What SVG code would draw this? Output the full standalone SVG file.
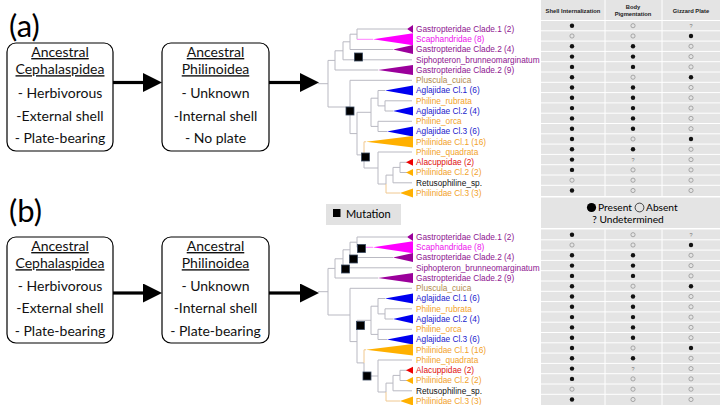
<svg xmlns="http://www.w3.org/2000/svg" width="720" height="405" viewBox="0 0 720 405">
<defs>
<style>
.lbl{font-family:Lato,"Liberation Sans",sans-serif;fill:#000}
.box{fill:#fff;stroke:#000;stroke-width:1.2}
.bt{font-family:Lato,"Liberation Sans",sans-serif;font-size:14px;text-anchor:middle;fill:#111}
.u{text-decoration:underline}
.br{fill:none;stroke:#b9b9c2;stroke-width:1}
.tx{font-family:"Liberation Sans",Arial,sans-serif;font-size:8.3px}
.pu{fill:#8e1490}.mg{fill:#ee10ee}.bl{fill:#2222cc}.or{fill:#f2a22a}.rd{fill:#e01010}.tn{fill:#b08a4e}.bk{fill:#111}
.tp{fill:#9b009b}.tm{fill:#ff00ff}.tb{fill:#0000f0}.to{fill:#ffb000}.tr{fill:#ee0000}
.mut{fill:#000;stroke:#3a4a60;stroke-width:0.8}
.tab{fill:#e4e4e4}
.sep{stroke:#fff;stroke-width:1}
.hd{font-family:"Liberation Sans",Arial,sans-serif;font-size:5.8px;font-weight:bold;text-anchor:middle;fill:#222}
.q{font-family:"Liberation Sans",Arial,sans-serif;font-size:5.5px;text-anchor:middle;fill:#777}
.conn{stroke:#000;stroke-width:3.2;fill:none}
</style>
<marker id="ah" markerUnits="userSpaceOnUse" markerWidth="20" markerHeight="20" refX="0" refY="9.5" orient="auto" viewBox="0 0 20 20">
<path d="M0,0 L19,9.5 L0,19 z" fill="#000"/>
</marker>
<circle id="f" r="2.2" fill="#111"/>
<circle id="o" r="2.1" fill="none" stroke="#8c8c8c" stroke-width="0.7"/>
</defs>
<rect width="720" height="405" fill="#fff"/>

<text class="lbl" x="9" y="37" font-size="31">(a)</text>
<text class="lbl" x="9" y="222" font-size="31">(b)</text>

<g id="a-cephalaspidea">
<rect class="box" x="7" y="43" width="106" height="108" rx="9"/>
<text class="bt u" x="60" y="57">Ancestral</text>
<text class="bt u" x="60" y="74.2">Cephalaspidea</text>
<text class="bt" x="60" y="98">- Herbivorous</text>
<text class="bt" x="60" y="120.5">-External shell</text>
<text class="bt" x="60" y="142.5">- Plate-bearing</text>
</g>
<g id="a-philinoidea">
<rect class="box" x="162" y="43" width="107" height="108" rx="9"/>
<text class="bt u" x="215.5" y="57">Ancestral</text>
<text class="bt u" x="215.5" y="74.2">Philinoidea</text>
<text class="bt" x="215.5" y="98">- Unknown</text>
<text class="bt" x="215.5" y="120.5">-Internal shell</text>
<text class="bt" x="215.5" y="142.5">- No plate</text>
</g>
<g id="b-cephalaspidea">
<rect class="box" x="7" y="237" width="106" height="106" rx="9"/>
<text class="bt u" x="60" y="251">Ancestral</text>
<text class="bt u" x="60" y="268.2">Cephalaspidea</text>
<text class="bt" x="60" y="291">- Herbivorous</text>
<text class="bt" x="60" y="313">-External shell</text>
<text class="bt" x="60" y="335.5">- Plate-bearing</text>
</g>
<g id="b-philinoidea">
<rect class="box" x="162" y="237" width="107" height="106" rx="9"/>
<text class="bt u" x="215.5" y="251">Ancestral</text>
<text class="bt u" x="215.5" y="268.2">Philinoidea</text>
<text class="bt" x="215.5" y="291">- Unknown</text>
<text class="bt" x="215.5" y="313">-Internal shell</text>
<text class="bt" x="215.5" y="335.5">- Plate-bearing</text>
</g>

<g id="connectors">
<line class="conn" x1="113" y1="82.5" x2="143" y2="82.5" marker-end="url(#ah)"/>
<line class="conn" x1="269" y1="82.5" x2="300" y2="82.5" marker-end="url(#ah)"/>
<line class="conn" x1="113" y1="293" x2="143" y2="293" marker-end="url(#ah)"/>
<line class="conn" x1="269" y1="293" x2="300" y2="293" marker-end="url(#ah)"/>
</g>

<g id="tree-a">
<path class="br" d="M318,83.7H328 M328,60.4V107 M328,60.4H335 M335,50.8V70 M335,50.8H343 M335,70H378 M343,41.8V59.8 M343,41.8H350 M343,59.8H412 M350,34.2V49.5 M350,34.2H357 M350,49.5H393 M357,29V39.3 M357,29H407 M328,107H350 M350,80.3V133.6 M350,80.3H412 M350,133.6H357 M357,112.3V154.9 M357,112.3H371 M371,98.2V126.4 M371,98.2H378 M378,90.5V105.9 M378,90.5H385 M378,105.9H385 M385,100.8V111 M385,100.8H412 M385,111H393 M371,126.4H378 M378,121.3V131.5 M378,121.3H412 M378,131.5H387 M357,154.9H364 M364,154.9V168 M364,168H378 M378,152V184 M378,152H412 M378,184H386 M386,175.1V184 M386,175.1H393 M393,167.4V182.8 M393,167.4H400 M393,182.8H412 M400,162.3V172.5 M400,162.3H407 M400,172.5H407"/>
<path d="M357,39.3H373" stroke="#ff80ff" stroke-width="1" fill="none"/>
<path d="M364,141.8V154.9 M364,141.8H366 M386,184V193H400" stroke="#f0c890" stroke-width="1" fill="none"/>
<polygon class="tp" points="407,29 413,25 413,33"/>
<polygon class="tm" points="373,39.3 413,33.3 413,45.3"/>
<polygon class="tp" points="393,49.5 413,45 413,54"/>
<polygon class="tp" points="378,70 413,65 413,75"/>
<polygon class="tb" points="385,90.5 413,85.5 413,95.5"/>
<polygon class="tb" points="393,111 413,106.5 413,115.5"/>
<polygon class="tb" points="387,131.5 413,126.5 413,136.5"/>
<polygon class="to" points="366,141.8 413,136 413,147.6"/>
<polygon class="tr" points="406,162.3 413,158.8 413,165.8"/>
<polygon class="to" points="406,172.5 413,169 413,176"/>
<polygon class="to" points="400,193 413,188.5 413,197.5"/>
<g class="tx">
<text class="pu" x="416" y="31.8">Gastropteridae Clade.1 (2)</text>
<text class="mg" x="416" y="42.1">Scaphandridae (8)</text>
<text class="pu" x="416" y="52.3">Gastropteridae Clade.2 (4)</text>
<text class="pu" x="416" y="62.6">Siphopteron_brunneomarginatum</text>
<text class="pu" x="416" y="72.8">Gastropteridae Clade.2 (9)</text>
<text class="tn" x="416" y="83.1">Pluscula_cuica</text>
<text class="bl" x="416" y="93.3">Aglajidae Cl.1 (6)</text>
<text class="or" x="416" y="103.6">Philine_rubrata</text>
<text class="bl" x="416" y="113.8">Aglajidae Cl.2 (4)</text>
<text class="or" x="416" y="124.1">Philine_orca</text>
<text class="bl" x="416" y="134.3">Aglajidae Cl.3 (6)</text>
<text class="or" x="416" y="144.6">Philinidae Cl.1 (16)</text>
<text class="or" x="416" y="154.8">Philine_quadrata</text>
<text class="rd" x="416" y="165.1">Alacuppidae (2)</text>
<text class="or" x="416" y="175.3">Philinidae Cl.2 (2)</text>
<text class="bk" x="416" y="185.6">Retusophiline_sp.</text>
<text class="or" x="416" y="195.8">Philinidae Cl.3 (3)</text>
</g>
<rect class="mut" x="354.5" y="53" width="8" height="8"/>
<rect class="mut" x="346" y="107" width="8" height="8"/>
<rect class="mut" x="361.5" y="153" width="8" height="8"/>
</g>

<g id="tree-b" transform="translate(0,208)">
<path class="br" d="M318,83.7H328 M328,60.4V107 M328,60.4H335 M335,50.8V70 M335,50.8H343 M335,70H378 M343,41.8V59.8 M343,41.8H350 M343,59.8H412 M350,34.2V49.5 M350,34.2H357 M350,49.5H393 M357,29V39.3 M357,29H407 M328,107H350 M350,80.3V133.6 M350,80.3H412 M350,133.6H357 M357,112.3V154.9 M357,112.3H371 M371,98.2V126.4 M371,98.2H378 M378,90.5V105.9 M378,90.5H385 M378,105.9H385 M385,100.8V111 M385,100.8H412 M385,111H393 M371,126.4H378 M378,121.3V131.5 M378,121.3H412 M378,131.5H387 M357,154.9H364 M364,154.9V168 M364,168H378 M378,152V184 M378,152H412 M378,184H386 M386,175.1V184 M386,175.1H393 M393,167.4V182.8 M393,167.4H400 M393,182.8H412 M400,162.3V172.5 M400,162.3H407 M400,172.5H407"/>
<path d="M357,39.3H373" stroke="#ff80ff" stroke-width="1" fill="none"/>
<path d="M364,141.8V154.9 M364,141.8H366 M386,184V193H400" stroke="#f0c890" stroke-width="1" fill="none"/>
<polygon class="tp" points="407,29 413,25 413,33"/>
<polygon class="tm" points="373,39.3 413,33.3 413,45.3"/>
<polygon class="tp" points="393,49.5 413,45 413,54"/>
<polygon class="tp" points="378,70 413,65 413,75"/>
<polygon class="tb" points="385,90.5 413,85.5 413,95.5"/>
<polygon class="tb" points="393,111 413,106.5 413,115.5"/>
<polygon class="tb" points="387,131.5 413,126.5 413,136.5"/>
<polygon class="to" points="366,141.8 413,136 413,147.6"/>
<polygon class="tr" points="406,162.3 413,158.8 413,165.8"/>
<polygon class="to" points="406,172.5 413,169 413,176"/>
<polygon class="to" points="400,193 413,188.5 413,197.5"/>
<g class="tx">
<text class="pu" x="416" y="31.8">Gastropteridae Clade.1 (2)</text>
<text class="mg" x="416" y="42.1">Scaphandridae (8)</text>
<text class="pu" x="416" y="52.3">Gastropteridae Clade.2 (4)</text>
<text class="pu" x="416" y="62.6">Siphopteron_brunneomarginatum</text>
<text class="pu" x="416" y="72.8">Gastropteridae Clade.2 (9)</text>
<text class="tn" x="416" y="83.1">Pluscula_cuica</text>
<text class="bl" x="416" y="93.3">Aglajidae Cl.1 (6)</text>
<text class="or" x="416" y="103.6">Philine_rubrata</text>
<text class="bl" x="416" y="113.8">Aglajidae Cl.2 (4)</text>
<text class="or" x="416" y="124.1">Philine_orca</text>
<text class="bl" x="416" y="134.3">Aglajidae Cl.3 (6)</text>
<text class="or" x="416" y="144.6">Philinidae Cl.1 (16)</text>
<text class="or" x="416" y="154.8">Philine_quadrata</text>
<text class="rd" x="416" y="165.1">Alacuppidae (2)</text>
<text class="or" x="416" y="175.3">Philinidae Cl.2 (2)</text>
<text class="bk" x="416" y="185.6">Retusophiline_sp.</text>
<text class="or" x="416" y="195.8">Philinidae Cl.3 (3)</text>
</g>
<rect class="mut" x="357.5" y="36.5" width="8" height="8"/>
<rect class="mut" x="349.5" y="47" width="8" height="8"/>
<rect class="mut" x="341.5" y="57" width="8" height="8"/>
<rect class="mut" x="356.5" y="113.5" width="8" height="8"/>
<rect class="mut" x="363" y="164" width="8" height="8"/>
</g>

<g id="mutation-legend">
<rect x="326" y="204" width="75" height="21" fill="#e2e2e2"/>
<rect x="333" y="209" width="7.5" height="8" fill="#000"/>
<text class="lbl" x="346" y="217.5" font-size="11">Mutation</text>
</g>

<g id="table-a">
<rect class="tab" x="541" y="0" width="179" height="196"/>
<path class="sep" d="M605,0V196 M662,0V196 M541,20.5H720"/>
<text class="hd" x="573" y="12.5">Shell Internalization</text>
<text class="hd" x="633" y="8.5">Body</text>
<text class="hd" x="633" y="16">Pigmentation</text>
<text class="hd" x="691" y="12.5">Gizzard Plate</text>
<g transform="translate(0,20.5)">
<path class="sep" d="M541,10.3H720 M541,20.6H720 M541,30.9H720 M541,41.2H720 M541,51.5H720 M541,61.8H720 M541,72.1H720 M541,82.4H720 M541,92.7H720 M541,103H720 M541,113.3H720 M541,123.6H720 M541,133.9H720 M541,144.2H720 M541,154.5H720 M541,164.8H720"/>
<use href="#f" x="572" y="5.2"/><use href="#o" x="633" y="5.2"/><text class="q" x="691" y="7.2">?</text>
<use href="#o" x="572" y="15.5"/><use href="#o" x="633" y="15.5"/><use href="#f" x="691" y="15.5"/>
<use href="#f" x="572" y="25.8"/><use href="#f" x="633" y="25.8"/><use href="#o" x="691" y="25.8"/>
<use href="#f" x="572" y="36.1"/><use href="#f" x="633" y="36.1"/><use href="#o" x="691" y="36.1"/>
<use href="#f" x="572" y="46.4"/><use href="#f" x="633" y="46.4"/><use href="#o" x="691" y="46.4"/>
<use href="#f" x="572" y="56.7"/><use href="#o" x="633" y="56.7"/><use href="#f" x="691" y="56.7"/>
<use href="#f" x="572" y="67"/><use href="#f" x="633" y="67"/><use href="#o" x="691" y="67"/>
<use href="#f" x="572" y="77.3"/><use href="#f" x="633" y="77.3"/><use href="#o" x="691" y="77.3"/>
<use href="#f" x="572" y="87.6"/><use href="#f" x="633" y="87.6"/><use href="#o" x="691" y="87.6"/>
<use href="#f" x="572" y="97.9"/><use href="#f" x="633" y="97.9"/><use href="#o" x="691" y="97.9"/>
<use href="#f" x="572" y="108.2"/><use href="#f" x="633" y="108.2"/><use href="#o" x="691" y="108.2"/>
<use href="#f" x="572" y="118.5"/><use href="#o" x="633" y="118.5"/><use href="#f" x="691" y="118.5"/>
<use href="#f" x="572" y="128.8"/><use href="#f" x="633" y="128.8"/><use href="#o" x="691" y="128.8"/>
<use href="#f" x="572" y="139.1"/><text class="q" x="633" y="141.1">?</text><use href="#o" x="691" y="139.1"/>
<use href="#f" x="572" y="149.4"/><use href="#o" x="633" y="149.4"/><use href="#o" x="691" y="149.4"/>
<use href="#o" x="572" y="159.7"/><use href="#o" x="633" y="159.7"/><use href="#o" x="691" y="159.7"/>
<use href="#f" x="572" y="170"/><use href="#o" x="633" y="170"/><use href="#o" x="691" y="170"/>
</g>
</g>

<g id="presence-legend">
<rect class="tab" x="541" y="197.5" width="179" height="30.5"/>
<circle cx="591.5" cy="207.5" r="4.6" fill="#000"/>
<text class="lbl" x="598" y="211" font-size="10.2">Present</text>
<circle cx="639.5" cy="207.5" r="4.4" fill="none" stroke="#000" stroke-width="0.7"/>
<text class="lbl" x="646" y="211" font-size="10.2">Absent</text>
<text class="lbl" x="628" y="222.5" font-size="10.2" text-anchor="middle">? Undetermined</text>
</g>

<g id="table-b" transform="translate(0,229.5)">
<rect class="tab" x="541" y="0" width="179" height="176"/>
<path class="sep" d="M605,0V176 M662,0V176 M541,10.3H720 M541,20.6H720 M541,30.9H720 M541,41.2H720 M541,51.5H720 M541,61.8H720 M541,72.1H720 M541,82.4H720 M541,92.7H720 M541,103H720 M541,113.3H720 M541,123.6H720 M541,133.9H720 M541,144.2H720 M541,154.5H720 M541,164.8H720"/>
<use href="#f" x="572" y="5.2"/><use href="#o" x="633" y="5.2"/><text class="q" x="691" y="7.2">?</text>
<use href="#o" x="572" y="15.5"/><use href="#o" x="633" y="15.5"/><use href="#f" x="691" y="15.5"/>
<use href="#f" x="572" y="25.8"/><use href="#f" x="633" y="25.8"/><use href="#o" x="691" y="25.8"/>
<use href="#f" x="572" y="36.1"/><use href="#f" x="633" y="36.1"/><use href="#o" x="691" y="36.1"/>
<use href="#f" x="572" y="46.4"/><use href="#f" x="633" y="46.4"/><use href="#o" x="691" y="46.4"/>
<use href="#f" x="572" y="56.7"/><use href="#o" x="633" y="56.7"/><use href="#f" x="691" y="56.7"/>
<use href="#f" x="572" y="67"/><use href="#f" x="633" y="67"/><use href="#o" x="691" y="67"/>
<use href="#f" x="572" y="77.3"/><use href="#f" x="633" y="77.3"/><use href="#o" x="691" y="77.3"/>
<use href="#f" x="572" y="87.6"/><use href="#f" x="633" y="87.6"/><use href="#o" x="691" y="87.6"/>
<use href="#f" x="572" y="97.9"/><use href="#f" x="633" y="97.9"/><use href="#o" x="691" y="97.9"/>
<use href="#f" x="572" y="108.2"/><use href="#f" x="633" y="108.2"/><use href="#o" x="691" y="108.2"/>
<use href="#f" x="572" y="118.5"/><use href="#o" x="633" y="118.5"/><use href="#f" x="691" y="118.5"/>
<use href="#f" x="572" y="128.8"/><use href="#f" x="633" y="128.8"/><use href="#o" x="691" y="128.8"/>
<use href="#f" x="572" y="139.1"/><text class="q" x="633" y="141.1">?</text><use href="#o" x="691" y="139.1"/>
<use href="#f" x="572" y="149.4"/><use href="#o" x="633" y="149.4"/><use href="#o" x="691" y="149.4"/>
<use href="#o" x="572" y="159.7"/><use href="#o" x="633" y="159.7"/><use href="#o" x="691" y="159.7"/>
<use href="#f" x="572" y="170"/><use href="#o" x="633" y="170"/><use href="#o" x="691" y="170"/>
</g>
</svg>
